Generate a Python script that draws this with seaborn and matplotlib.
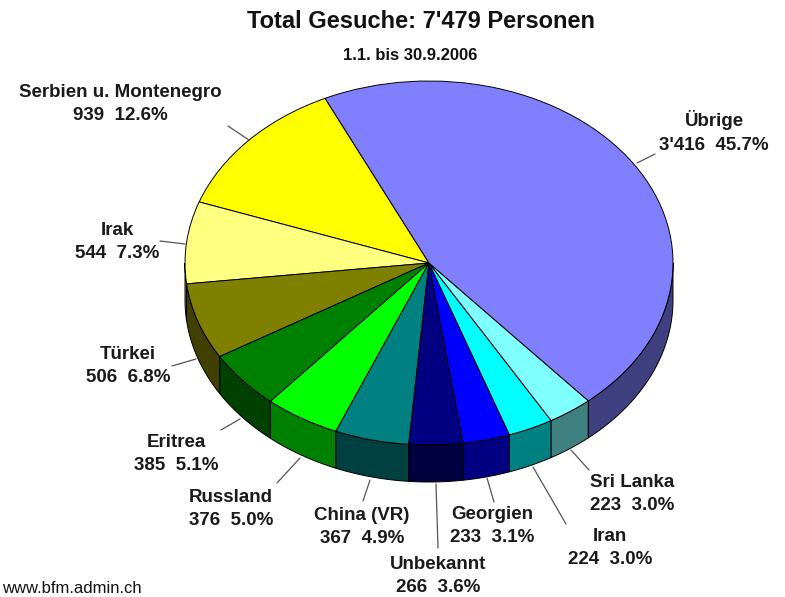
import numpy as np
import matplotlib
matplotlib.use("Agg")
import matplotlib.pyplot as plt
import seaborn as sns
from matplotlib.patches import Polygon

# ---------------- data ----------------
categories = ["Serbien u. Montenegro", "Irak", "Türkei", "Eritrea", "Russland",
              "China (VR)", "Unbekannt", "Georgien", "Iran", "Sri Lanka", "Übrige"]
counts = [939, 544, 506, 385, 376, 367, 266, 233, 224, 223, 3416]
top_colors = ["#FFFF00", "#FFFF80", "#808000", "#008000", "#00FF00",
              "#008080", "#000080", "#0000FF", "#00FFFF", "#80FFFF", "#8080FF"]
side_colors = ["#808000", "#808040", "#404000", "#004000", "#008000",
               "#004040", "#000040", "#000080", "#008080", "#408080", "#404080"]
# label centres in pixels (x, y from top)
label_pos = [(120, 104), (117, 242), (128, 366), (176, 454), (231, 509),
             (362, 527), (438, 576), (492, 526), (610, 548), (632, 494), (714, 132)]
leader_lines = [((228, 126), (249, 140)), ((160, 241), (185, 244)),
                ((172, 366), (196, 359)), ((221, 430), (240, 419)),
                ((277, 483), (300, 458)), ((363, 501), (370, 480)),
                ((438, 548), (436, 484)), ((494, 502), (487, 478)),
                ((566, 524), (533, 467)), ((589, 470), (571, 450)),
                ((655, 154), (637, 163))]

sns.set_theme(style="white")
plt.rcParams["font.family"] = ["Liberation Sans", "DejaVu Sans"]

W, H = 785, 597
cx, cy, rx, ry = 429.0, 263.0, 244.0, 182.0
depth = 37.0 / ry
start = 115.2

fig = plt.figure(figsize=(W / 100, H / 100), dpi=100)
ax = fig.add_axes([0, 0, 1, 1])


def P(px, py):
    return (px - cx) / rx, (cy - py) / ry


total = sum(counts)
fracs = np.array(counts) / total

# side walls (front half only)
theta = start
for frac, sc in zip(fracs, side_colors):
    t1, t2 = theta, theta + 360 * frac
    theta = t2
    for lo, hi in [(180, 360), (540, 720)]:
        a, b = max(t1, lo), min(t2, hi)
        if a >= b:
            continue
        tt = np.radians(np.linspace(a, b, 80))
        xs = np.cos(tt)
        ys = np.sin(tt)
        pts = np.concatenate([np.column_stack([xs, ys]),
                              np.column_stack([xs[::-1], ys[::-1] - depth])])
        ax.add_patch(Polygon(pts, closed=True, facecolor=sc, edgecolor="black",
                             linewidth=0.7, zorder=1))

# top faces
wedges, _ = ax.pie(counts, colors=top_colors, startangle=start, counterclock=True,
                   radius=1.0, center=(0, 0),
                   wedgeprops=dict(edgecolor="black", linewidth=0.7))
for w in wedges:
    w.set_zorder(2)

ax.set_aspect("auto")
ax.set_xlim((0 - cx) / rx, (W - cx) / rx)
ax.set_ylim((cy - H) / ry, cy / ry)
ax.axis("off")

# labels
for cat, cnt, frac, (lx, ly), ((x1, y1), (x2, y2)) in zip(
        categories, counts, fracs, label_pos, leader_lines):
    cnt_txt = f"{cnt:,}".replace(",", "'")
    ax.text(*P(lx, ly), f"{cat}\n{cnt_txt}  {frac * 100:.1f}%", ha="center",
            va="center", fontsize=13.5, fontweight="bold", color="#1a1a1a",
            linespacing=1.5, zorder=5)
    ax.plot(*zip(P(x1, y1), P(x2, y2)), color="#555555", linewidth=0.9, zorder=4)

ax.text(*P(421, 22), f"Total Gesuche: {total:,}".replace(",", "'") + " Personen",
        ha="center", va="center", fontsize=17, fontweight="bold", color="#111111")
ax.text(*P(410, 55), "1.1. bis 30.9.2006", ha="center", va="center",
        fontsize=12, fontweight="bold", color="#111111")
ax.text(*P(2, 596), "www.bfm.admin.ch", ha="left", va="bottom",
        fontsize=12, color="#111111")

fig.savefig("out.png", dpi=100)
